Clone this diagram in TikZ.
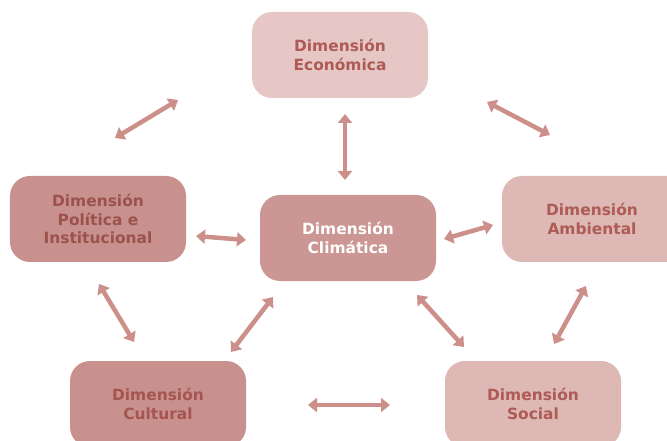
\documentclass[tikz,border=0pt]{standalone}
\usepackage{fontspec}
\setmainfont{DejaVu Sans}
\usetikzlibrary{arrows.meta}

\definecolor{rosaclaro}{HTML}{E6C7C5}
\definecolor{rosamedio}{HTML}{DDB8B5}
\definecolor{rosaoscuro}{HTML}{C8918D}
\definecolor{letraroja}{HTML}{AE5A55}
\definecolor{flecha}{HTML}{CC8F8A}

\begin{document}
\begin{tikzpicture}[x=1bp,y=-1bp]
  \tikzstyle{every node}=[font=\bfseries\fontsize{15.5}{18.5}\selectfont, align=center]
  \tikzstyle{caja}=[rectangle, rounded corners=20bp, minimum width=176bp, minimum height=86bp]
  \tikzstyle{doble}=[draw=flecha, line width=4.5bp, {Triangle[width=14bp,length=9bp]}-{Triangle[width=14bp,length=9bp]}]
  \useasboundingbox (0,0) rectangle (667,441);
  % cajas
  \node[caja, fill=rosaclaro, text=letraroja] (eco) at (340,55) {Dimensión\\Económica};
  \node[caja, fill=rosaoscuro, text=letraroja!90!black] (pol) at (98,219) {Dimensión\\Política e\\Institucional};
  \node[caja, fill=rosaoscuro!95!white, text=white] (cli) at (348,238) {Dimensión\\Climática};
  \node[caja, fill=rosamedio, text=letraroja, minimum width=190bp] (amb) at (597,219) {\hspace*{-10bp}Dimensión\\\hspace*{-10bp}Ambiental};
  \node[caja, fill=rosaoscuro, text=letraroja!95!black] (cul) at (158,404) {Dimensión\\Cultural};
  \node[caja, fill=rosamedio, text=letraroja] (soc) at (533,404) {Dimensión\\Social};
  % extremos de las flechas
  \coordinate (polA) at (115,138);  \coordinate (ecoA) at (178,100);
  \coordinate (ecoB) at (345,114);  \coordinate (cliA) at (345,180);
  \coordinate (ecoC) at (487,102);  \coordinate (ambA) at (550,135);
  \coordinate (polB) at (196,236);  \coordinate (cliB) at (246,240);
  \coordinate (cliC) at (444,239);  \coordinate (ambB) at (493,225);
  \coordinate (polC) at (99,284);   \coordinate (culA) at (134,342);
  \coordinate (culB) at (231,352);  \coordinate (cliD) at (273,297);
  \coordinate (cliE) at (417,295);  \coordinate (socA) at (464,347);
  \coordinate (socB) at (554,344);  \coordinate (ambC) at (586,286);
  \coordinate (culC) at (308,405);  \coordinate (socC) at (390,405);
  % flechas
  \draw[doble] (polA) -- (ecoA);
  \draw[doble] (ecoB) -- (cliA);
  \draw[doble] (ecoC) -- (ambA);
  \draw[doble] (polB) -- (cliB);
  \draw[doble] (cliC) -- (ambB);
  \draw[doble] (polC) -- (culA);
  \draw[doble] (culB) -- (cliD);
  \draw[doble] (cliE) -- (socA);
  \draw[doble] (socB) -- (ambC);
  \draw[doble] (culC) -- (socC);
\end{tikzpicture}
\end{document}
